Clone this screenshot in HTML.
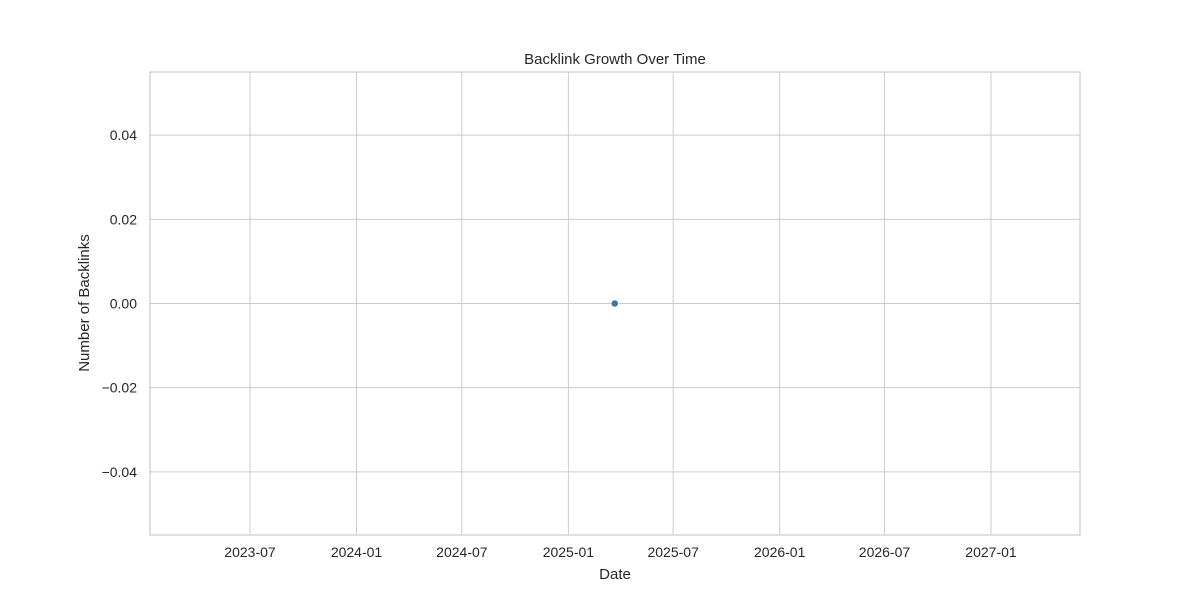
<!DOCTYPE html>
<html><head><meta charset="utf-8">
<style>
body{margin:0;background:#fff;}
svg text{font-family:"Liberation Sans","DejaVu Sans",sans-serif;fill:#262626;}
</style></head>
<body>
<svg id="chart" width="1200" height="600"></svg>
<script>
const dates = ["2025-03-22"];
const backlinks = [0];
const xTickLabels = ["2023-07","2024-01","2024-07","2025-01","2025-07","2026-01","2026-07","2027-01"];
const yTickValues = [-0.04,-0.02,0.00,0.02,0.04];

const L=150,R=1080,T=72,B=535;
const day=86400000;
const t0=Date.parse("2023-07-01"), t1=Date.parse("2027-01-01");
const pxPerDay=741/((t1-t0)/day);
const xMs = d => 250 + (Date.parse(d)-t0)/day*pxPerDay;
const yMin=-0.055,yMax=0.055;
const ys = v => B - (v-yMin)/(yMax-yMin)*(B-T);
const svg=document.getElementById('chart');
const NS="http://www.w3.org/2000/svg";
function mk(tag,attrs,parent){const e=document.createElementNS(NS,tag);for(const k in attrs)e.setAttribute(k,attrs[k]);(parent||svg).appendChild(e);return e;}

const plot=mk('rect',{x:L,y:T,width:R-L,height:B-T,fill:'#fff'});



xTickLabels.forEach(lbl=>{
  const x=xMs(lbl+"-01");
  const g=mk('line',{x1:x,x2:x,y1:T,y2:B,stroke:'#cccccc','stroke-width':1});
  
  
  const t=mk('text',{x:x,y:B+22,'text-anchor':'middle','font-size':14});
  t.textContent=lbl;
  
  
});
yTickValues.forEach(v=>{
  const y=ys(v);
  const g=mk('line',{x1:L,x2:R,y1:y,y2:y,stroke:'#cccccc','stroke-width':1});
  
  
  const t=mk('text',{x:L-13,y:y+5,'text-anchor':'end','font-size':14});
  t.textContent=(v<0?"\u2212":"")+Math.abs(v).toFixed(2);
  
  
});
const frame=mk('rect',{x:L,y:T,width:R-L,height:B-T,fill:'none',stroke:'#cccccc','stroke-width':1.25});



dates.forEach((d,i)=>{
  const c=mk('circle',{cx:xMs(d),cy:ys(backlinks[i]),r:3.5,fill:'#3a75b0',stroke:'#fff','stroke-width':0.5});
  
  
});

const title=mk('text',{x:615,y:64,'text-anchor':'middle','font-size':15});
title.textContent="Backlink Growth Over Time";


const xl=mk('text',{x:615,y:579,'text-anchor':'middle','font-size':15});
xl.textContent="Date";


const yl=mk('text',{x:89,y:303,'text-anchor':'middle','font-size':15,transform:'rotate(-90 89 303)'});
yl.textContent="Number of Backlinks";


</script>
</body></html>
